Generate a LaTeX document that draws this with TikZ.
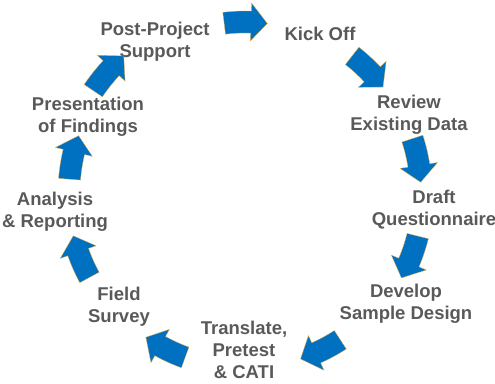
\documentclass[tikz,border=0pt]{standalone}
\usepackage{fontspec}
\setmainfont{Liberation Sans}
\definecolor{stepgray}{HTML}{595959}
\definecolor{cycleblue}{HTML}{0070C0}
\definecolor{rimorange}{HTML}{F0B040}

\begin{document}
\begin{tikzpicture}[x=1pt,y=1pt,
    step node/.style={font=\bfseries\fontsize{18.5}{22}\selectfont,text=stepgray,align=center,inner sep=0pt},
    cycle arrow/.style={fill=cycleblue,draw=rimorange,line width=0.3pt,line join=miter}]
  \useasboundingbox (0,0) rectangle (495,383);
  \coordinate (O) at (245,190);

  \node[step node] (kickoff) at (320,349.5) {Kick Off};
  \node[step node] (review) at (409,268) {Review\\Existing Data};
  \node[step node] (draft) at (434,173) {Draft\\Questionnaire};
  \node[step node] (develop) at (406,79) {Develop\\Sample Design};
  \node[step node] (translate) at (244,33) {Translate,\\Pretest\\\& CATI};
  \node[step node] (field) at (119,76) {Field\\Survey};
  \node[step node] (analysis) at (55,171) {Analysis\\\& Reporting};
  \node[step node] (presentation) at (88,266) {Presentation\\of Findings};
  \node[step node] (support) at (155,341) {Post-Project\\Support};

  % curved block arrows round the cycle
  \foreach \a/\r in {90/171, 45/174, 11/176, -21/178, -64/175, -117/175, -158.5/177, 168.5/176, 139/183}{
    \pgfmathsetmacro\tail{\a+7}
    \pgfmathsetmacro\base{\a-2}
    \pgfmathsetmacro\tip{\a-7.5}
    \pgfmathsetmacro\ro{\r+11}
    \pgfmathsetmacro\ri{\r-11}
    \pgfmathsetmacro\hro{\r+19}
    \pgfmathsetmacro\hri{\r-19}
    \filldraw[cycle arrow] ([shift={(\tail:\ro)}]O)
      arc[start angle=\tail, end angle=\base, radius=\ro pt]
      -- ([shift={(\base:\hro)}]O) -- ([shift={(\tip:\r)}]O)
      -- ([shift={(\base:\hri)}]O) -- ([shift={(\base:\ri)}]O)
      arc[start angle=\base, end angle=\tail, radius=\ri pt] -- cycle;
  }
\end{tikzpicture}
\end{document}
